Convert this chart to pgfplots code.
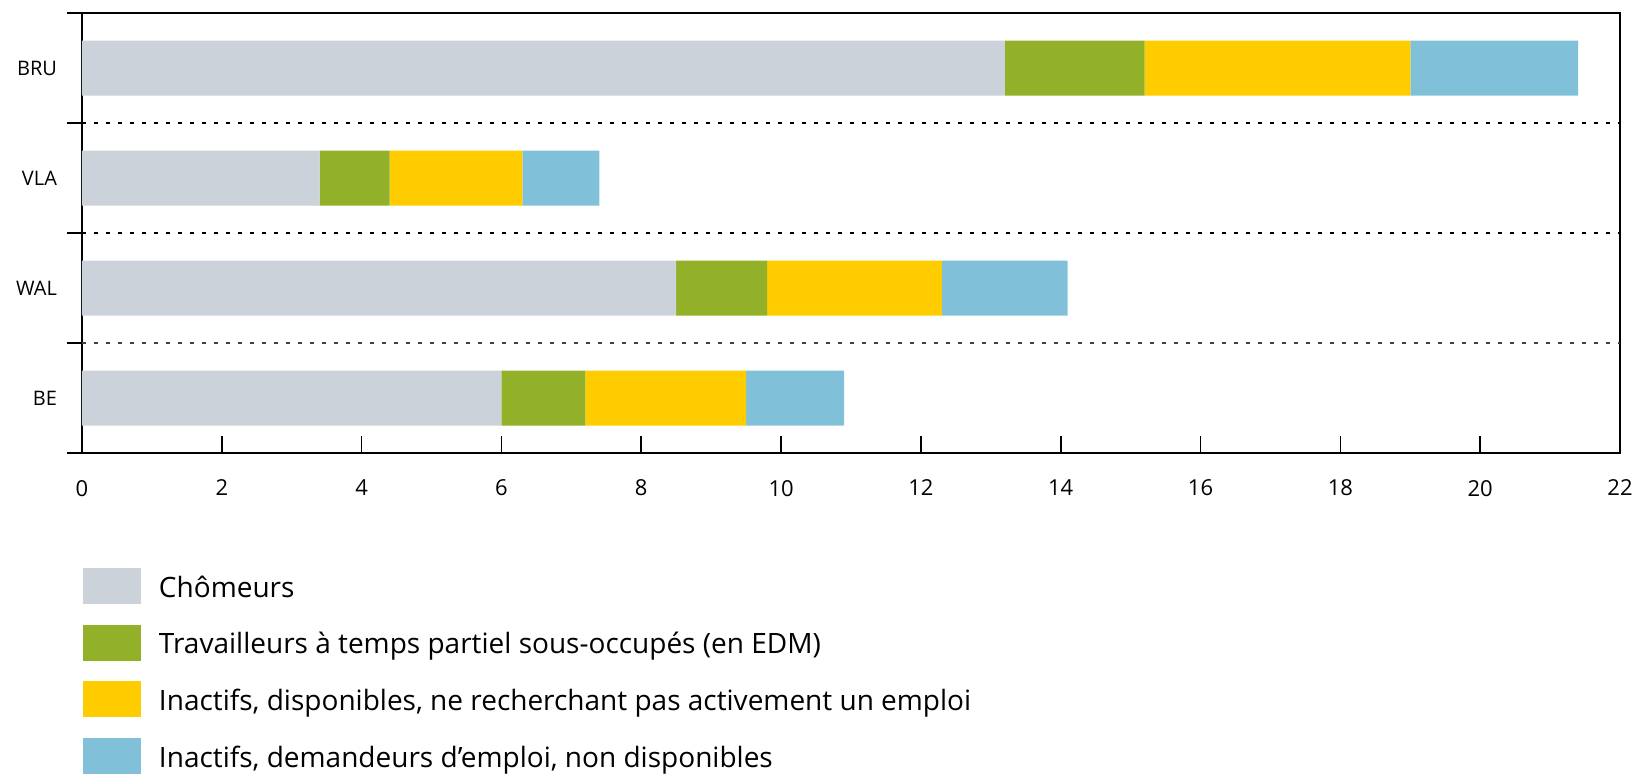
\documentclass[border=0pt]{standalone}
\usepackage{fontspec}
\setmainfont{Open Sans}
\usepackage{pgfplots}
\pgfplotsset{compat=1.18}

\definecolor{chom}{HTML}{CBD2DA}
\definecolor{trav}{HTML}{92B128}
\definecolor{inadisp}{HTML}{FFCC00}
\definecolor{inadem}{HTML}{81C0D9}

\begin{document}
\begin{tikzpicture}
\begin{axis}[
    name=ax,
    scale only axis,
    width=769pt, height=220pt,
    xmin=0, xmax=22,
    ymin=-0.5, ymax=3.5,
    xbar stacked,
    bar width=0.5,
    axis line style={line width=0.9pt},
    xtick={0,2,...,22},
    xtick pos=bottom,
    tick align=inside,
    major tick length=8.5pt,
    xtick style={line width=0.8pt, black},
    xticklabel style={font=\fontsize{11}{13}\selectfont, yshift=-10pt,
        /pgf/number format/assume math mode=true},
    ytick={0,1,2,3},
    yticklabels={BE,WAL,VLA,BRU},
    ytick pos=left,
    ytick style={draw=none},
    yticklabel style={font=\fontsize{10}{12}\selectfont, xshift=-9pt},
    extra y ticks={-0.5,0.5,1.5,2.5,3.5},
    extra y tick labels={},
    extra y tick style={tick align=outside, major tick length=7.5pt,
        ytick style={draw=black, line width=1pt}},
    legend image code/.code={\fill[#1] (0pt,-8pt) rectangle (29pt,10pt);},
    legend cell align=left,
    legend style={at={(axis description cs:0,0)}, anchor=north west,
        xshift=0.5pt, yshift=-57.5pt, draw=none, fill=none,
        inner sep=0pt, outer sep=0pt,
        row sep=10.3pt, column sep=9pt,
        nodes={inner xsep=0pt, inner ysep=0pt},
        font=\fontsize{14}{16}\selectfont},
]
\addplot[fill=chom, draw=none] coordinates {(6.0,0) (8.5,1) (3.4,2) (13.2,3)};
\addplot[fill=trav, draw=none] coordinates {(1.2,0) (1.3,1) (1.0,2) (2.0,3)};
\addplot[fill=inadisp, draw=none] coordinates {(2.3,0) (2.5,1) (1.9,2) (3.8,3)};
\addplot[fill=inadem, draw=none] coordinates {(1.4,0) (1.8,1) (1.1,2) (2.4,3)};
\legend{Chômeurs,
  Travailleurs à temps partiel sous-occupés (en EDM),
  {Inactifs, disponibles, ne recherchant pas activement un emploi},
  {Inactifs, demandeurs d’emploi, non disponibles}}
\draw[line width=1.1pt, dash pattern=on 1.8pt off 4.2pt] (axis cs:0,2.5) -- (axis cs:22,2.5);
\draw[line width=1.1pt, dash pattern=on 1.8pt off 4.2pt] (axis cs:0,1.5) -- (axis cs:22,1.5);
\draw[line width=0.7pt, black!75, dash pattern=on 2.2pt off 3.8pt] (axis cs:0,0.5) -- (axis cs:22,0.5);
\end{axis}
\pgfresetboundingbox
\path ([xshift=-41pt,yshift=-161pt]ax.south west) rectangle ([xshift=6.5pt,yshift=6.5pt]ax.north east);
\end{tikzpicture}
\end{document}
